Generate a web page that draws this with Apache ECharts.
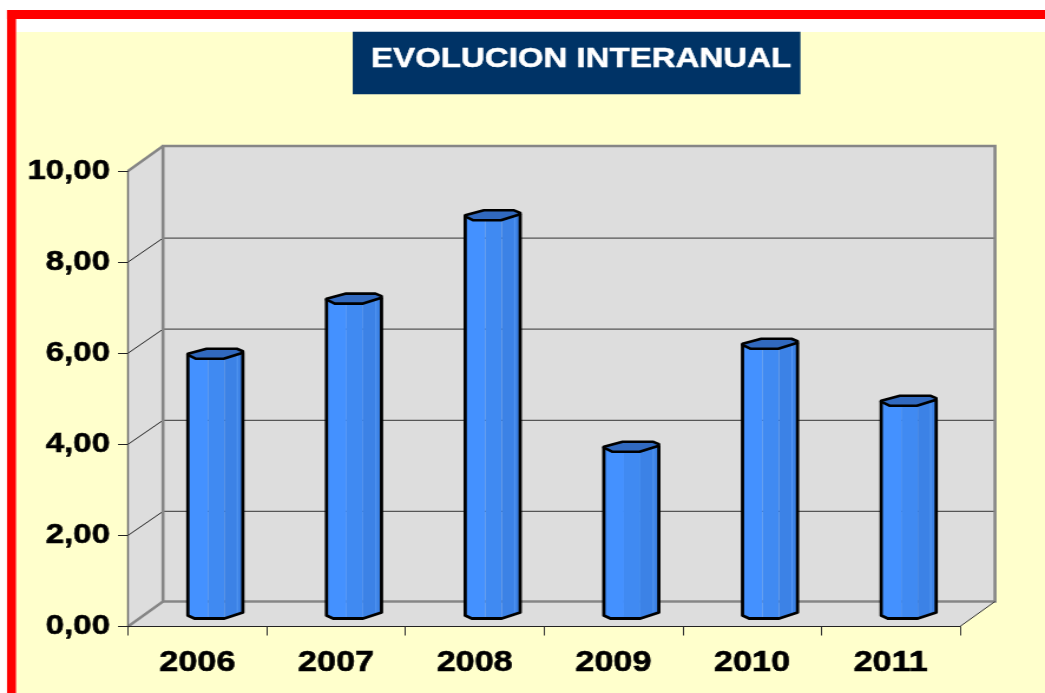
<!DOCTYPE html>
<html>
<head>
<meta charset="utf-8">
<style>
html,body{margin:0;padding:0;background:#fff;overflow:hidden;width:1045px;height:693px}
#main{position:absolute;left:0;top:0;width:886px;height:693px;transform-origin:0 0;transform:scaleX(1.17946)}
</style>
<script src="https://cdn.jsdelivr.net/npm/echarts@6/dist/echarts.min.js"></script>
</head>
<body>
<div id="main"></div>
<script>
const titleText = 'EVOLUCION INTERANUAL';
const categories = ['2006', '2007', '2008', '2009', '2010', '2011'];
const values = [5.68, 6.89, 8.72, 3.64, 5.90, 4.65];
const yTicks = [0, 2, 4, 6, 8, 10];
const yTickLabels = ['0,00', '2,00', '4,00', '6,00', '8,00', '10,00'];

const K = 1045 / 886;
const px = v => v / K;          // horizontal reference pixels to chart units
const DEPTH_X = px(35), DEPTH_Y = -25;
const BAR_DX = px(18), BAR_DY = -14;
const HW = px(27.5);
const FONT = '"Liberation Sans", Arial, sans-serif';

const capPts = [[-1, 0], [-0.32, -5], [0.78, -5], [1, -2.5], [1, -1], [0.3, 5], [-0.7, 5], [-1, 1]];
const baseCurve = [[-1, 3], [-0.76, 6], [0.33, 6], [1, 0]];
const bands = [[-1, -0.27, '#4491FF'], [-0.27, 0.33, '#408AF2'], [0.33, 1, '#3C82E6']];

function curveY(t) {
  for (let i = 0; i < baseCurve.length - 1; i++) {
    const a = baseCurve[i], b = baseCurve[i + 1];
    if (t <= b[0]) return a[1] + (b[1] - a[1]) * (t - a[0]) / (b[0] - a[0]);
  }
  return 0;
}

function renderBar(params, api) {
  const cat = api.value(0);
  const top0 = api.coord([cat, api.value(1)]);
  const base0 = api.coord([cat, 0]);
  const cx = top0[0] + BAR_DX, yt = top0[1] + BAR_DY, yb = base0[1] + BAR_DY;
  const children = [];
  bands.forEach(b => {
    const pts = [[cx + b[0] * HW, yt], [cx + b[1] * HW, yt], [cx + b[1] * HW, yb + curveY(b[1])]];
    baseCurve.slice().reverse().forEach(p => {
      if (p[0] < b[1] && p[0] > b[0]) pts.push([cx + p[0] * HW, yb + p[1]]);
    });
    pts.push([cx + b[0] * HW, yb + curveY(b[0])]);
    children.push({ type: 'polygon', shape: { points: pts }, style: { fill: b[2] }, silent: true });
  });
  children.push({ type: 'line', shape: { x1: cx + 0.8 * HW, y1: yt, x2: cx + 0.8 * HW, y2: yb }, style: { stroke: '#5C9DF6', lineWidth: 0.8 }, silent: true });
  children.push({
    type: 'polygon',
    shape: { points: capPts.map(p => [cx + p[0] * HW, yt + p[1]]) },
    style: { fill: '#3169BF', stroke: '#000', lineWidth: 2.6, lineJoin: 'round' }, silent: true
  });
  const outline = [[cx - HW, yt], [cx - HW, yb + baseCurve[0][1]]]
    .concat(baseCurve.slice(1).map(p => [cx + p[0] * HW, yb + p[1]]))
    .concat([[cx + HW, yt - 1]]);
  children.push({ type: 'polyline', shape: { points: outline }, style: { fill: null, stroke: '#000', lineWidth: 2.8, lineJoin: 'round' }, silent: true });
  return { type: 'group', children };
}

function renderWalls(params, api) {
  const cs = params.coordSys;
  const x0 = cs.x, x1 = cs.x + cs.width, yt = cs.y, yb = cs.y + cs.height;
  const dx = DEPTH_X, dy = DEPTH_Y;
  const gray = '#868686';
  const children = [
    { type: 'polygon', shape: { points: [[x0, yb], [x0 + dx, yb + dy], [x0 + dx, yt + dy], [x0, yt]] }, style: { fill: '#DDDDDD' } },
    { type: 'polygon', shape: { points: [[x0, yb], [x1, yb], [x1 + dx, yb + dy], [x0 + dx, yb + dy]] }, style: { fill: '#DDDDDD' } },
    { type: 'rect', shape: { x: x0 + dx, y: yt + dy, width: cs.width, height: cs.height }, style: { fill: '#DDDDDD' } }
  ];
  yTicks.forEach(v => {
    const y = api.coord([0, v])[1];
    if (v > 0 && v < 10) {
      children.push({ type: 'line', shape: { x1: x0 + dx, y1: y + dy + 1, x2: x1 + dx, y2: y + dy + 1 }, style: { stroke: '#555', lineWidth: 1.2 } });
      children.push({ type: 'line', shape: { x1: x0, y1: y, x2: x0 + dx, y2: y + dy + 1 }, style: { stroke: '#222', lineWidth: 1 } });
    }
  });
  children.push({ type: 'rect', shape: { x: x0 + dx, y: yt + dy, width: cs.width, height: cs.height }, style: { fill: null, stroke: gray, lineWidth: 2.6 } });
  children.push({ type: 'line', shape: { x1: x0, y1: yt, x2: x0 + dx, y2: yt + dy }, style: { stroke: gray, lineWidth: 2.4 } });
  children.push({ type: 'line', shape: { x1: x0, y1: yb, x2: x0 + dx, y2: yb + dy }, style: { stroke: gray, lineWidth: 2.4 } });
  children.push({ type: 'line', shape: { x1: x1, y1: yb, x2: x1 + dx, y2: yb + dy }, style: { stroke: '#333', lineWidth: 1 } });
  children.forEach(c => c.silent = true);
  return { type: 'group', children };
}

const chart = echarts.init(document.getElementById('main'), null, { renderer: 'canvas' });
chart.setOption({
  animation: false,
  backgroundColor: '#FFFFFF',
  title: {
    text: titleText,
    left: px(353),
    top: 32,
    padding: [13, px(9), 21, px(18)],
    backgroundColor: '#003366',
    textStyle: { color: '#FFFFFF', fontFamily: FONT, fontWeight: 'bold', fontSize: 28, lineHeight: 28, textBorderColor: '#FFFFFF', textBorderWidth: 0.5 }
  },
  graphic: {
    elements: [
      { type: 'rect', z: -2, silent: true, shape: { x: px(16), y: 32, width: 886, height: 661 }, style: { fill: '#FFFFCC' } },
      { type: 'rect', z: -1, silent: true, shape: { x: px(7), y: 10, width: 886, height: 9 }, style: { fill: '#FF0000' } },
      { type: 'rect', z: -1, silent: true, shape: { x: px(7), y: 10, width: px(9), height: 683 }, style: { fill: '#FF0000' } }
    ]
  },
  grid: { left: px(128), top: 171, width: px(832), height: 455.5, containLabel: false },
  xAxis: {
    type: 'category',
    data: categories,
    z: 5,
    axisLine: { lineStyle: { color: '#222', width: 1.2 } },
    axisTick: { show: true, alignWithLabel: false, length: 9, lineStyle: { color: '#333', width: 1 } },
    axisLabel: { margin: 22, color: '#000', fontFamily: FONT, fontWeight: 'bold', fontSize: 29, textBorderColor: '#000', textBorderWidth: 0.6 }
  },
  yAxis: {
    type: 'value',
    min: 0, max: 10, interval: 2,
    z: 5,
    splitLine: { show: false },
    axisLine: { show: true, lineStyle: { color: '#666', width: 1.4 } },
    axisTick: { show: true, length: px(10), lineStyle: { color: '#222', width: 1 } },
    axisLabel: {
      margin: px(18), color: '#000', fontFamily: FONT, fontWeight: 'bold', fontSize: 28, textBorderColor: '#000', textBorderWidth: 0.6,
      formatter: v => yTickLabels[yTicks.indexOf(v)]
    }
  },
  series: [
    { type: 'custom', name: 'walls', z: 1, clip: false, silent: true, renderItem: renderWalls, data: [[0, 0]], encode: { x: 0, y: 1 } },
    { type: 'custom', name: 'EVOLUCION INTERANUAL', z: 3, clip: false, silent: true, renderItem: renderBar, data: values.map((v, i) => [i, v]), encode: { x: 0, y: 1 } }
  ]
});
</script>
</body>
</html>
